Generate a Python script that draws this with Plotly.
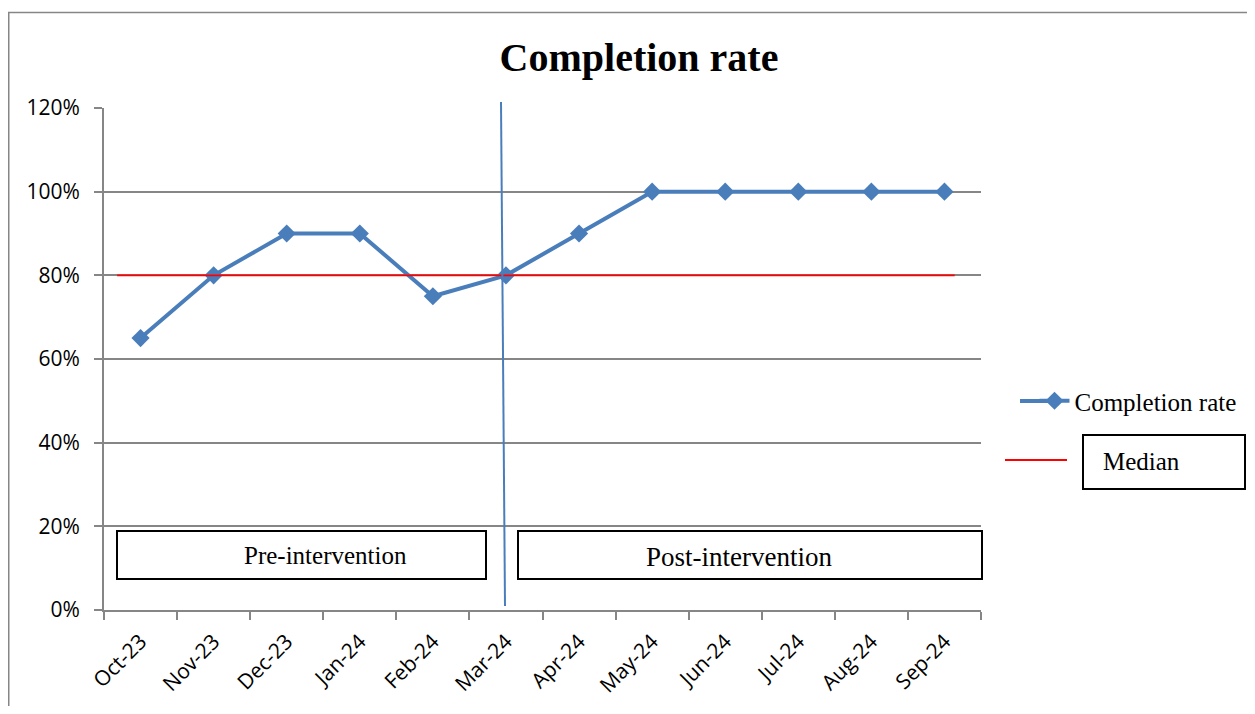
import plotly.graph_objects as go

months = ["Oct-23", "Nov-23", "Dec-23", "Jan-24", "Feb-24", "Mar-24",
          "Apr-24", "May-24", "Jun-24", "Jul-24", "Aug-24", "Sep-24"]
completion = [0.65, 0.80, 0.90, 0.90, 0.75, 0.80, 0.90, 1.00, 1.00, 1.00, 1.00, 1.00]
median_value = 0.80
series_name = "Completion rate"
median_name = "Median"
title_text = "Completion rate"
phase_labels = ["Pre-intervention", "Post-intervention"]
y_ticks = [0, 0.2, 0.4, 0.6, 0.8, 1.0, 1.2]

BLUE = "#4A7EBB"
GRAY = "#868686"
SERIF = "Liberation Serif, Times New Roman, serif"
SANS = "Open Sans, Noto Sans, sans-serif"

W, H = 1239, 698
L, R, T, B = 96, 266, 100, 96
PW, PH = W - L - R, H - T - B


def px(xf):
    return (xf - L) / PW


def py(yf):
    return (H - B - yf) / PH


fig = go.Figure()
fig.add_trace(go.Scatter(
    x=months, y=completion, name=series_name, mode="lines+markers",
    line=dict(color=BLUE, width=4),
    marker=dict(symbol="diamond", size=14, color=BLUE),
))

shapes = []
# outer frame
shapes.append(dict(type="rect", xref="paper", yref="paper",
                   x0=px(0.75), x1=px(W + 20), y0=py(4.5), y1=py(H + 20),
                   line=dict(color=GRAY, width=1.5), layer="below"))
# median line
shapes.append(dict(type="line", xref="x", yref="y", x0=-0.32, x1=11.14,
                   y0=median_value, y1=median_value,
                   line=dict(color="#FF0000", width=1.8)))
# intervention line
shapes.append(dict(type="line", xref="paper", yref="paper",
                   x0=px(493), x1=px(497), y0=py(94), y1=py(598),
                   line=dict(color=BLUE, width=2)))
# phase boxes
shapes.append(dict(type="rect", xref="paper", yref="paper",
                   x0=px(109), x1=px(478), y0=py(523), y1=py(571),
                   line=dict(color="black", width=2), fillcolor="white"))
shapes.append(dict(type="rect", xref="paper", yref="paper",
                   x0=px(510), x1=px(974), y0=py(523), y1=py(571),
                   line=dict(color="black", width=2), fillcolor="white"))
# legend line extension for the series entry
shapes.append(dict(type="line", xref="paper", yref="paper",
                   x0=px(1012), x1=px(1040), y0=py(393), y1=py(393),
                   line=dict(color=BLUE, width=4)))
# median legend
shapes.append(dict(type="line", xref="paper", yref="paper",
                   x0=px(997), x1=px(1059), y0=py(452), y1=py(452),
                   line=dict(color="#FF0000", width=1.8)))
shapes.append(dict(type="rect", xref="paper", yref="paper",
                   x0=px(1075), x1=px(1237), y0=py(427), y1=py(481),
                   line=dict(color="black", width=2), fillcolor="white"))

annotations = [
    dict(text=phase_labels[0], xref="paper", yref="paper", x=px(317), y=py(547),
         xanchor="center", yanchor="middle", showarrow=False,
         font=dict(family=SERIF, size=25, color="black")),
    dict(text=phase_labels[1], xref="paper", yref="paper", x=px(731), y=py(549),
         xanchor="center", yanchor="middle", showarrow=False,
         font=dict(family=SERIF, size=27, color="black")),
    dict(text=median_name, xref="paper", yref="paper", x=px(1093), y=py(453),
         xanchor="left", yanchor="middle", showarrow=False,
         font=dict(family=SERIF, size=25, color="black")),
]

fig.update_layout(
    width=W, height=H, autosize=False,
    margin=dict(l=L, r=R, t=T, b=B, pad=0, autoexpand=False),
    paper_bgcolor="white", plot_bgcolor="white",
    title=dict(text="<b>" + title_text + "</b>", x=631 / W, y=1 - 49 / H,
               xanchor="center", yanchor="middle",
               font=dict(family=SERIF, size=40, color="black")),
    showlegend=True,
    legend=dict(xref="container", yref="container",
                x=1026.5 / W, y=1 - 393 / H, xanchor="left", yanchor="middle",
                font=dict(family=SERIF, size=25, color="black"),
                bgcolor="rgba(0,0,0,0)", borderwidth=0),
    shapes=shapes,
    annotations=annotations,
    xaxis=dict(type="category", range=[-0.5, 11.5], tickson="boundaries",
               ticks="outside", ticklen=8, tickwidth=2, tickcolor=GRAY,
               showline=True, linecolor=GRAY, linewidth=2, showgrid=False,
               tickangle=-45, ticklabelstandoff=9, automargin=False,
               tickfont=dict(family=SANS, size=21, color="black"),
               zeroline=False),
    yaxis=dict(range=[0, 1.2], tickvals=y_ticks, tickformat=".0%",
               ticks="outside", ticklen=8, tickwidth=2, tickcolor=GRAY,
               showline=True, linecolor=GRAY, linewidth=2, automargin=False,
               showgrid=True, gridcolor=GRAY, gridwidth=1.5, zeroline=False,
               ticklabelstandoff=10,
               tickfont=dict(family=SANS, size=21, color="black")),
)

fig.write_html("out.html")
